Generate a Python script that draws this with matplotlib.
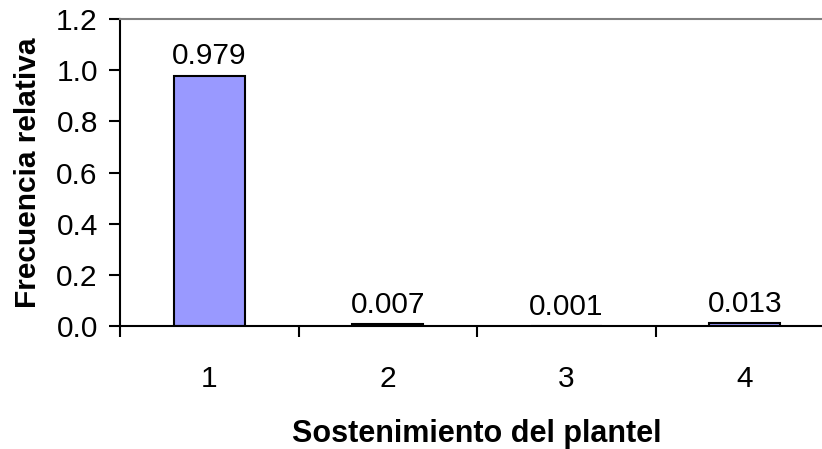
import matplotlib.pyplot as plt
import numpy as np

plt.rcParams["font.family"] = ["Liberation Sans", "DejaVu Sans"]

categories = ["1", "2", "3", "4"]
values = [0.979, 0.007, 0.001, 0.013]
labels = ["0.979", "0.007", "0.001", "0.013"]
yticks = [0.0, 0.2, 0.4, 0.6, 0.8, 1.0, 1.2]

FS = 21.5

fig = plt.figure(figsize=(8.22, 4.49), dpi=100)
ax = fig.add_axes([120 / 822, 123 / 449, 714 / 822, 307 / 449])

x = np.arange(1, len(categories) + 1)
ax.bar(x, values, width=0.4, color="#9999FF", edgecolor="black", linewidth=1.5)

for xi, v, lab in zip(x, values, labels):
    ax.text(xi, v + 0.02, lab, ha="center", va="bottom", fontsize=FS)

ax.set_xlim(0.5, 4.5)
ax.set_ylim(0, 1.2)
ax.set_yticks(yticks)
ax.set_yticklabels([f"{t:.1f}" for t in yticks], fontsize=FS)

# category ticks sit between the bars, labels in the middle
ax.set_xticks(np.arange(0.5, 4.6, 1.0))
ax.set_xticklabels([])
ax.set_xticks(x, minor=True)
ax.set_xticklabels(categories, minor=True, fontsize=FS)
ax.tick_params(axis="x", which="minor", length=0, pad=28)
ax.tick_params(axis="both", which="major", direction="out", length=8, width=1.5)
ax.tick_params(axis="y", pad=8)

for side in ["left", "bottom"]:
    ax.spines[side].set_linewidth(1.5)
ax.spines["top"].set_color("#808080")
ax.spines["top"].set_linewidth(1.5)
ax.spines["right"].set_color("#808080")

ax.set_xlabel("Sostenimiento del plantel", fontsize=22, fontweight="bold", labelpad=19)
ax.set_ylabel("Frecuencia relativa", fontsize=FS, fontweight="bold", labelpad=10)

fig.savefig("out.png", dpi=100)
